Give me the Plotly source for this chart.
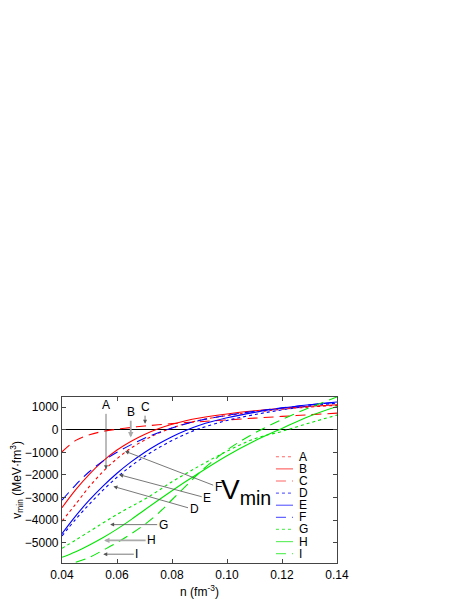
import plotly.graph_objects as go

# density grid (fm^-3)
n = [0.04, 0.045, 0.05, 0.055, 0.06, 0.065, 0.07, 0.075, 0.08, 0.085, 0.09,
     0.10, 0.11, 0.12, 0.13, 0.14]
n_i = [0.045, 0.05, 0.055, 0.06, 0.065, 0.07, 0.075, 0.08, 0.085, 0.09,
       0.10, 0.11, 0.12, 0.13, 0.14]

# v_min (MeV fm^3)
v_a = [-4050, -3290, -2510, -1840, -1280, -820, -460, -160, 80, 270, 420, 630, 780, 905, 1005, 1080]
v_b = [-3450, -2650, -1960, -1380, -900, -520, -210, 40, 240, 400, 520, 700, 840, 950, 1040, 1110]
v_c = [-980, -470, -220, -70, 25, 100, 165, 220, 270, 315, 355, 435, 515, 590, 665, 735]
v_d = [-4700, -3960, -3290, -2665, -2105, -1615, -1185, -810, -480, -190, 50, 410, 670, 880, 1050, 1180]
v_e = [-4600, -3810, -3110, -2485, -1925, -1435, -1005, -630, -305, -30, 200, 530, 770, 960, 1110, 1230]
v_f = [-3120, -2440, -1850, -1380, -1000, -670, -380, -130, 80, 260, 410, 640, 820, 970, 1100, 1210]
v_g = [-5250, -4880, -4500, -4120, -3750, -3410, -3080, -2700, -2300, -1950, -1600, -950, -400, -70, 300, 650]
v_h = [-5650, -5400, -5100, -4770, -4400, -3990, -3550, -3120, -2700, -2290, -1900, -1150, -500, 60, 600, 1030]
v_i = [-5870, -5650, -5330, -5000, -4620, -4200, -3700, -3100, -2500, -1900, -900, -150, 450, 980, 1450]

labels = ["A", "B", "C", "D", "E", "F", "G", "H", "I"]
colors = ["#ff0000"] * 3 + ["#0000ff"] * 3 + ["#00e600"] * 3
dashes = ["dot", "solid", "10px,6px"] * 3
xs = [n] * 8 + [n_i]
ys = [v_a, v_b, v_c, v_d, v_e, v_f, v_g, v_h, v_i]

# arrow labels: (label, text_x, text_y, tip_x, tip_y)
arrows = [
    ("A", 0.056, 1080, 0.056, -1750),
    ("B", 0.065, 780, 0.065, -340),
    ("C", 0.0702, 1000, 0.0702, 265),
    ("D", 0.088, -3530, 0.0587, -2510),
    ("E", 0.0928, -3030, 0.0608, -1990),
    ("F", 0.0968, -2540, 0.0629, -950),
    ("G", 0.0768, -4200, 0.0575, -4200),
    ("H", 0.0726, -4900, 0.0553, -4900),
    ("I", 0.0672, -5510, 0.055, -5510),
]

FONT = "Liberation Sans, Arial, sans-serif"

fig = go.Figure()
for lab, x, y, c, d in zip(labels, xs, ys, colors, dashes):
    fig.add_trace(go.Scatter(x=x, y=y, name=lab, mode="lines", line_shape="spline",
                             line=dict(color=c, width=1.1, dash=d), showlegend=False))

for lab, tx, ty, hx, hy in arrows:
    grey = lab in ("B", "H")
    fig.add_annotation(x=hx, y=hy, ax=tx, ay=ty, axref="x", ayref="y", xref="x", yref="y",
                       text=lab, showarrow=True, arrowhead=2,
                       arrowsize=0.6 if grey else 1,
                       arrowwidth=1.8 if grey else 0.8,
                       arrowcolor="#aaaaaa" if grey else "#555555",
                       font=dict(family=FONT, size=12, color="black"))

# hand-drawn legend in the lower right of the frame
leg_top, leg_step = 0.64, 0.073
for k, (lab, c, d) in enumerate(zip(labels, colors, dashes)):
    yk = leg_top - k * leg_step
    fig.add_shape(type="line", xref="paper", yref="paper", x0=0.778, x1=0.84, y0=yk, y1=yk,
                  line=dict(color=c, width=1.2, dash=d), opacity=0.6)
    fig.add_annotation(xref="paper", yref="paper", x=0.855, y=yk, text=lab, showarrow=False,
                       xanchor="left", yanchor="middle", font=dict(family=FONT, size=12, color="black"))

fig.add_annotation(x=0.107, y=-2750, xref="x", yref="y", text="V<sub>min</sub>", showarrow=False,
                   font=dict(family=FONT, size=28, color="black"))

# y title as a rotated annotation so it sits where the original has it
fig.add_annotation(xref="paper", yref="paper", x=-0.165, y=0.5, xanchor="center", yanchor="middle",
                   textangle=-90, showarrow=False,
                   text="v<sub>min</sub> (MeV·fm<sup>3</sup>)",
                   font=dict(family=FONT, size=12, color="black"))

axis = dict(showline=True, linecolor="#444444", linewidth=1.2, mirror="ticks", ticks="inside",
            ticklen=4, tickcolor="#444444", showgrid=False, automargin=False,
            tickfont=dict(family=FONT, size=12, color="black"))
fig.update_xaxes(range=[0.04, 0.14], dtick=0.02, tickformat=".2f", **axis,
                 title=dict(text="n (fm<sup>-3</sup>)", font=dict(family=FONT, size=12, color="black")))
fig.update_yaxes(range=[-5900, 1450], dtick=1000, zeroline=True, zerolinecolor="black",
                 zerolinewidth=1, **axis)
fig.update_layout(width=463, height=599, plot_bgcolor="white", paper_bgcolor="white",
                  margin=dict(l=62, r=126, t=397, b=36), showlegend=False)

fig.write_html("out.html", config={"displayModeBar": False},
               post_script="document.body.style.margin='0';")
